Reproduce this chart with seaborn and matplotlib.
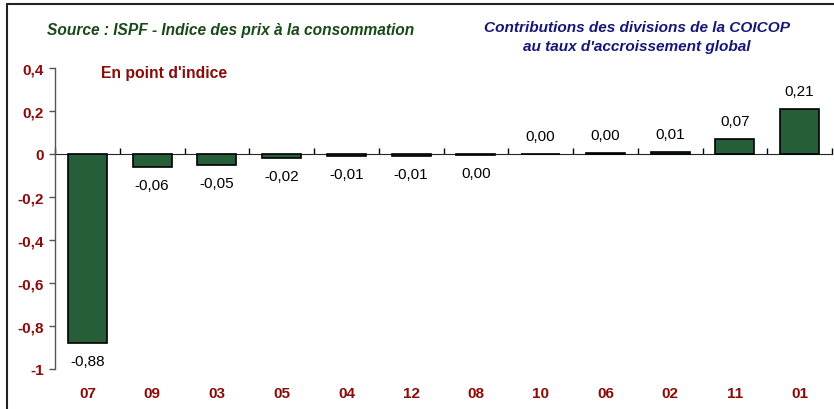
import matplotlib
matplotlib.use("Agg")
import matplotlib.pyplot as plt
from matplotlib.lines import Line2D
import seaborn as sns
import pandas as pd
import numpy as np

categories = ["07", "09", "03", "05", "04", "12", "08", "10", "06", "02", "11", "01"]
values = [-0.88, -0.06, -0.05, -0.02, -0.01, -0.01, -0.004, 0.0, 0.004, 0.01, 0.07, 0.21]
value_labels = ["-0,88", "-0,06", "-0,05", "-0,02", "-0,01", "-0,01", "0,00", "0,00", "0,00", "0,01", "0,07", "0,21"]
yticks = [0.4, 0.2, 0, -0.2, -0.4, -0.6, -0.8, -1]
ytick_labels = ["0,4", "0,2", "0", "-0,2", "-0,4", "-0,6", "-0,8", "-1"]

df = pd.DataFrame({"division": categories, "contribution": values})

sns.set_style("white")
plt.rcParams["font.family"] = ["Liberation Sans", "DejaVu Sans"]

fig = plt.figure(figsize=(8.34, 4.10), dpi=100)
ax = fig.add_axes([0.066, 0.0976, 0.9316, 0.7344])

sns.barplot(data=df, x="division", y="contribution", color="#265e39",
            saturation=1, width=0.6, edgecolor="black", linewidth=1.2, ax=ax)

ymin, ymax = -1, 0.4
ax.set_ylim(ymin, ymax)
ax.set_xlim(-0.5, len(categories) - 0.5)
ax.set_xlabel("")
ax.set_ylabel("")

red = "#8b0a0a"
ax.set_yticks(yticks)
ax.set_yticklabels(ytick_labels, color=red, fontweight="bold", fontsize=11)
ax.tick_params(axis="y", direction="out", length=4, width=1, color="#555555", pad=4, left=True)
ax.set_xticks(range(len(categories)))
ax.set_xticklabels(categories, color=red, fontweight="bold", fontsize=11)
ax.tick_params(axis="x", length=0, pad=12)

for s in ["top", "right", "bottom"]:
    ax.spines[s].set_visible(False)
ax.spines["left"].set_color("#555555")
ax.spines["left"].set_linewidth(1)

# zero axis with boundary ticks
sec = ax.secondary_xaxis((0 - ymin) / (ymax - ymin))
sec.set_xticks(np.arange(-0.5, len(categories), 1.0))
sec.set_xticklabels([])
sec.tick_params(direction="out", length=4, width=1, color="black")
sec.spines["bottom"].set_color("black")
sec.spines["bottom"].set_linewidth(1)

# value labels
for i, (v, lab) in enumerate(zip(values, value_labels)):
    off = -13 if v < 0 else 13
    ax.annotate(lab, (i, v), xytext=(0, off), textcoords="offset points",
                ha="center", va="center", fontsize=11, color="black")

# titles
fig.text(47 / 834, 1 - 30 / 410, "Source : ISPF - Indice des prix à la consommation",
         color="#174a17", fontweight="bold", fontstyle="italic", fontsize=11.2,
         ha="left", va="center")
fig.text(637 / 834, 1 - 28 / 410, "Contributions des divisions de la COICOP",
         color="#16167a", fontweight="bold", fontstyle="italic", fontsize=11.1,
         ha="center", va="center")
fig.text(637 / 834, 1 - 47 / 410, "au taux d'accroissement global",
         color="#16167a", fontweight="bold", fontstyle="italic", fontsize=11.1,
         ha="center", va="center")
fig.text(101 / 834, 1 - 74 / 410, "En point d'indice",
         color=red, fontweight="bold", fontsize=11.3, ha="left", va="center")

# outer frame (top and left)
fig.add_artist(Line2D([7 / 834, 1], [1 - 5 / 410, 1 - 5 / 410], transform=fig.transFigure,
                      color="#222222", linewidth=1.5))
fig.add_artist(Line2D([7 / 834, 7 / 834], [0, 1 - 5 / 410], transform=fig.transFigure,
                      color="#222222", linewidth=1.5))

fig.savefig("out.png", dpi=100)
